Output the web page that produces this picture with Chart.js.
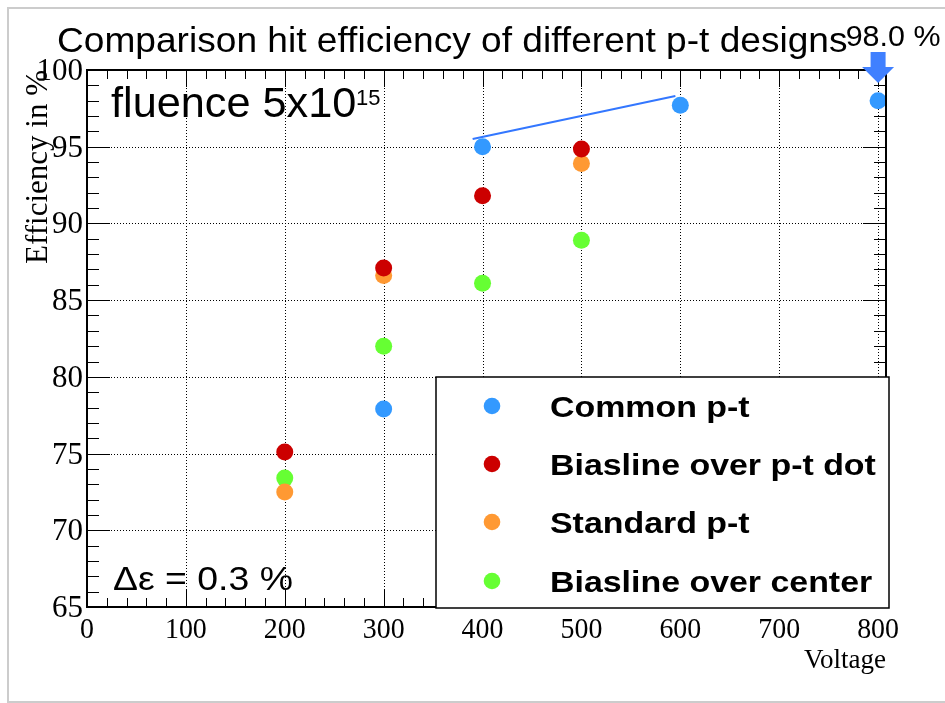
<!DOCTYPE html>
<html>
<head>
<meta charset="utf-8">
<script src="https://cdn.jsdelivr.net/npm/chart.js@4.4.1/dist/chart.umd.min.js"></script>
<style>
  html, body { margin: 0; padding: 0; background: #fff; }
  #wrap { width: 945px; height: 703px; position: relative; }
</style>
</head>
<body>
<div id="wrap"><canvas id="chart" width="945" height="703"></canvas></div>
<script>
// data
const commonX = [300, 400, 600, 800];
const commonY = [77.9, 95.0, 97.7, 98.0];
const biasDotX = [200, 300, 400, 500];
const biasDotY = [75.1, 87.1, 91.8, 94.85];
const standardX = [200, 300, 500];
const standardY = [72.5, 86.6, 93.9];
const centerX = [200, 300, 400, 500];
const centerY = [73.4, 82.0, 86.1, 88.9];
const fitX = [390, 595];
const fitY = [95.5, 98.3];
const labels = ['Common p-t', 'Biasline over p-t dot', 'Standard p-t', 'Biasline over center'];
const xTicks = [0, 100, 200, 300, 400, 500, 600, 700, 800];
const yTicks = [65, 70, 75, 80, 85, 90, 95, 100];
const arrowX = 800;
const arrowLabel = '98.0 %';

function pts(xs, ys) {
    return xs.map((x, i) => ({x: x, y: ys[i]}));
}

const sans = '"Liberation Sans", Arial, sans-serif';
const serif = '"Liberation Serif", "Times New Roman", serif';

// text with a horizontal stretch, like the ROOT rendering
function txt(ctx, s, x, y, font, align, sx) {
    ctx.save();
    ctx.font = font;
    ctx.textAlign = align || 'left';
    ctx.textBaseline = 'alphabetic';
    ctx.translate(x, y);
    ctx.scale(sx || 1, 1);
    ctx.fillText(s, 0, 0);
    ctx.restore();
}

const rootPlugin = {
    id: 'rootStyle',
    beforeDatasetsDraw(chart) {
        const ctx = chart.ctx;
        const xs = chart.scales.x, ys = chart.scales.y;
        const a = chart.chartArea;
        ctx.save();
        // dotted grid at major ticks
        ctx.strokeStyle = '#000';
        ctx.lineWidth = 1;
        ctx.setLineDash([1, 2]);
        xTicks.forEach(v => {
            const px = Math.round(xs.getPixelForValue(v)) + 0.5;
            ctx.beginPath(); ctx.moveTo(px, a.top); ctx.lineTo(px, a.bottom); ctx.stroke();
        });
        yTicks.forEach(v => {
            const py = Math.round(ys.getPixelForValue(v)) + 0.5;
            ctx.beginPath(); ctx.moveTo(a.left, py); ctx.lineTo(a.right, py); ctx.stroke();
        });
        ctx.setLineDash([]);
        // ticks on all four sides
        ctx.beginPath();
        for (let v = 0; v <= 800; v += 20) {
            const px = Math.round(xs.getPixelForValue(v)) + 0.5;
            const len = v % 100 === 0 ? 17 : 9;
            ctx.moveTo(px, a.bottom); ctx.lineTo(px, a.bottom - len);
            ctx.moveTo(px, a.top); ctx.lineTo(px, a.top + len);
        }
        for (let v = 65; v <= 100; v += 1) {
            const py = Math.round(ys.getPixelForValue(v)) + 0.5;
            const len = v % 5 === 0 ? 23 : 12;
            ctx.moveTo(a.left, py); ctx.lineTo(a.left + len, py);
            ctx.moveTo(a.right, py); ctx.lineTo(a.right - len, py);
        }
        ctx.stroke();
        ctx.restore();
    },
    afterDatasetsDraw(chart) {
        const ctx = chart.ctx;
        const xs = chart.scales.x, ys = chart.scales.y;
        const a = chart.chartArea;
        ctx.save();
        // frame
        ctx.strokeStyle = '#000';
        ctx.lineWidth = 2;
        ctx.strokeRect(a.left, a.top, a.right - a.left, a.bottom - a.top);
        ctx.fillStyle = '#000';
        // tick labels
        xTicks.forEach(v => {
            txt(ctx, String(v), xs.getPixelForValue(v), a.bottom + 31, '30px ' + serif, 'center', 0.93);
        });
        yTicks.forEach(v => {
            txt(ctx, String(v), a.left - 4, ys.getPixelForValue(v) + 10, '31px ' + serif, 'right');
        });
        // axis titles
        txt(ctx, 'Voltage', a.right, 668, '27px ' + serif, 'right');
        ctx.save();
        ctx.translate(47, 70);
        ctx.rotate(-Math.PI / 2);
        txt(ctx, 'Efficiency in %', 0, 0, '31px ' + serif, 'right');
        ctx.restore();
        // title and annotations
        txt(ctx, 'Comparison hit efficiency of different p-t designs', 57, 52, '35px ' + sans, 'left', 1.06);
        txt(ctx, 'fluence 5x10', 111, 117, '42px ' + sans, 'left', 1.03);
        txt(ctx, '15', 356, 105, '22px ' + sans, 'left');
        txt(ctx, '\u0394\u03b5 = 0.3 %', 113, 590, '34px ' + sans, 'left', 1.1);

        // arrow marker above the 800 V point
        const ax = xs.getPixelForValue(arrowX);
        const tip = ys.getPixelForValue(99.15);
        ctx.fillStyle = '#4080ff';
        ctx.beginPath();
        ctx.moveTo(ax - 7.5, 52); ctx.lineTo(ax + 7.5, 52);
        ctx.lineTo(ax + 7.5, tip - 16); ctx.lineTo(ax + 16, tip - 16);
        ctx.lineTo(ax, tip); ctx.lineTo(ax - 16, tip - 16);
        ctx.lineTo(ax - 7.5, tip - 16); ctx.closePath();
        ctx.fill();
        ctx.fillStyle = '#000';
        txt(ctx, arrowLabel, ax + 15, 46, '29px ' + sans, 'center', 1.05);

        // legend box
        ctx.fillStyle = '#fff';
        ctx.fillRect(436, 377, 453, 231);
        ctx.strokeStyle = '#000';
        ctx.lineWidth = 1.5;
        ctx.strokeRect(436, 377, 453, 231);
        const rows = [406, 464, 522, 581];
        rows.forEach((ry, i) => {
            const ds = chart.data.datasets[i];
            ctx.fillStyle = ds.backgroundColor;
            ctx.beginPath();
            ctx.arc(492, ry, 8.3, 0, Math.PI * 2);
            ctx.fill();
            ctx.fillStyle = '#000';
            txt(ctx, ds.label, 550, ry + 11, 'bold 30px ' + sans, 'left', 1.13);
        });
        ctx.restore();
    },
    afterDraw(chart) {
        const ctx = chart.ctx;
        // light outer border of the canvas
        ctx.save();
        ctx.strokeStyle = '#cccccc';
        ctx.lineWidth = 2;
        ctx.strokeRect(8, 8, 960, 694);
        ctx.restore();
    }
};

const ctx = document.getElementById('chart');
const myChart = new Chart(ctx, {
    type: 'scatter',
    data: {
        datasets: [
            {label: labels[0], data: pts(commonX, commonY), backgroundColor: '#3399ff', pointRadius: 8.5, borderWidth: 0},
            {label: labels[1], data: pts(biasDotX, biasDotY), backgroundColor: '#cc0000', pointRadius: 8.5, borderWidth: 0},
            {label: labels[2], data: pts(standardX, standardY), backgroundColor: '#ff9933', pointRadius: 8.5, borderWidth: 0},
            {label: labels[3], data: pts(centerX, centerY), backgroundColor: '#66ff33', pointRadius: 8.5, borderWidth: 0},
            {type: 'line', label: 'fit', data: pts(fitX, fitY), borderColor: '#3377ff', borderWidth: 2,
             pointRadius: 0, fill: false, showLine: true}
        ]
    },
    options: {
        responsive: false,
        animation: false,
        events: [],
        layout: {padding: {left: 87, right: 59, top: 70, bottom: 96}},
        plugins: {legend: {display: false}, tooltip: {enabled: false}, title: {display: false}},
        scales: {
            x: {type: 'linear', min: 0, max: 808, display: false},
            y: {type: 'linear', min: 65, max: 100, display: false}
        }
    },
    plugins: [rootPlugin]
});
</script>
</body>
</html>
